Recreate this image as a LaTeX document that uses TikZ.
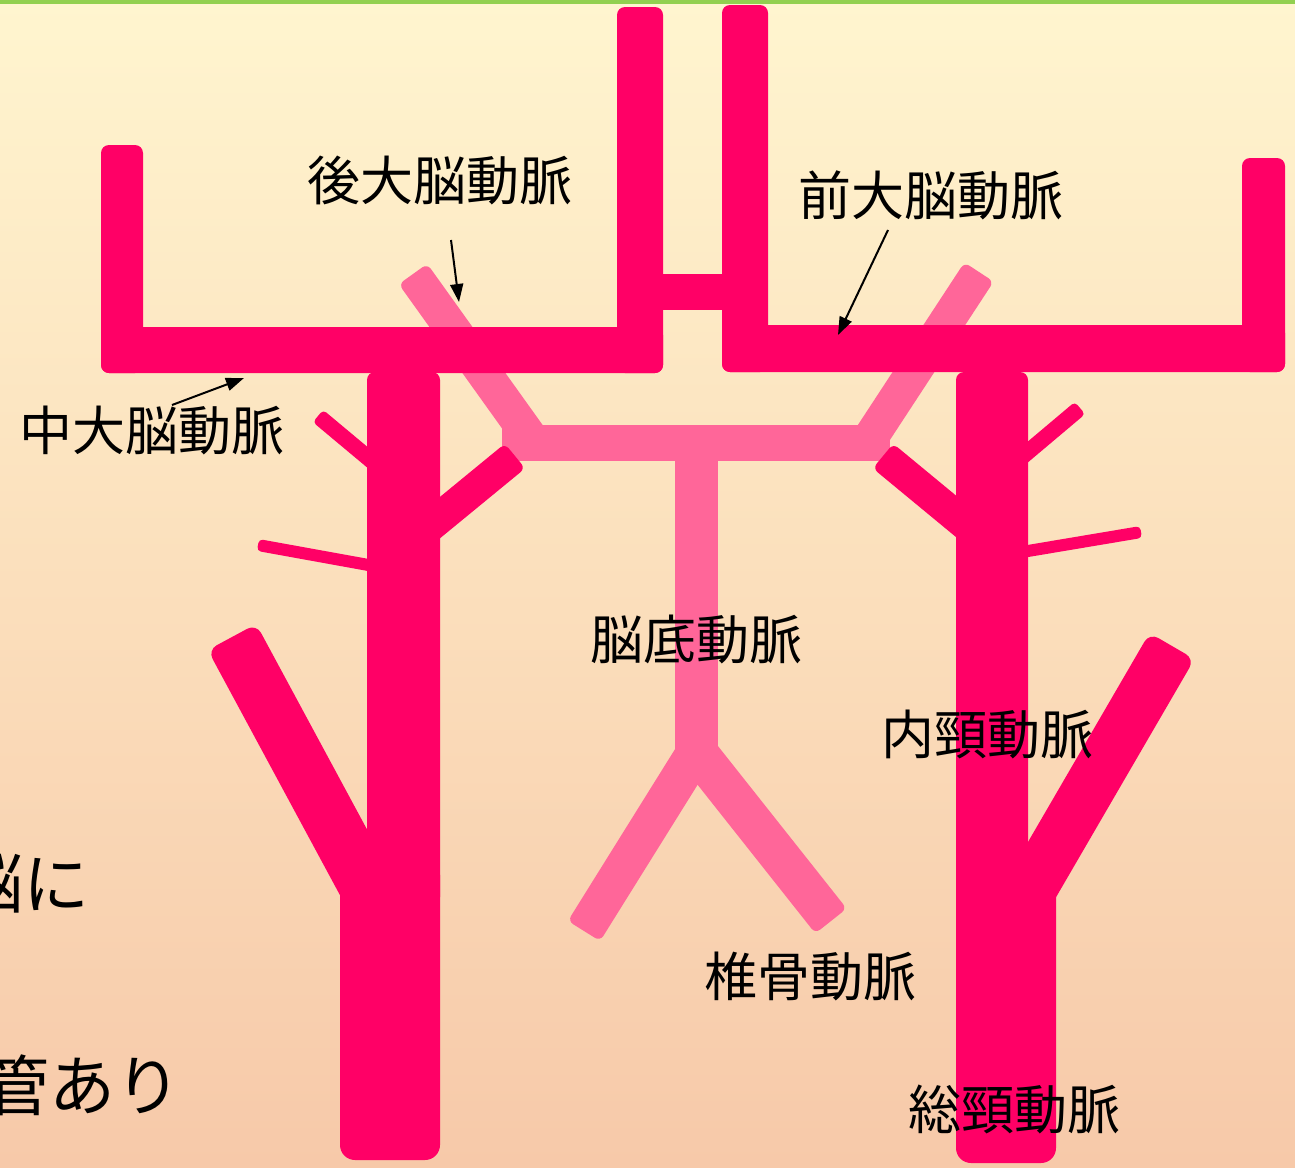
\documentclass[tikz,border=0pt]{standalone}
\usepackage{fontspec}
\newfontfamily\jp{Noto Sans CJK JP}
\usetikzlibrary{calc,arrows.meta}

\definecolor{artery}{HTML}{FF0066}
\definecolor{basilarpink}{HTML}{FF6699}
\definecolor{bgtop}{HTML}{FFF5CF}
\definecolor{bgmid}{HTML}{FCE5D5}
\definecolor{bgbot}{HTML}{F7C9A9}
\definecolor{topline}{HTML}{92D050}

% a straight vessel segment from #2 to #3 with half width #4
\newcommand\vessel[4][7pt]{%
  \fill[rounded corners=#1] ($(#2)!#4!90:(#3)$) -- ($(#3)!#4!-90:(#2)$)
    -- ($(#3)!#4!90:(#2)$) -- ($(#2)!#4!-90:(#3)$) -- cycle;}

\tikzset{
  label jp/.style={font=\jp\fontsize{53}{60}\selectfont, inner sep=0pt, text=black},
  side jp/.style={font=\jp\fontsize{66}{74}\selectfont, inner sep=0pt, text=black, anchor=east},
  pointer/.style={draw=black, line width=2pt, -{Triangle[length=18pt,width=13pt]}},
}

\begin{document}
\begin{tikzpicture}[x=1pt, y=-1pt]
\useasboundingbox (0,0) rectangle (1295,1167);
\clip (0,0) rectangle (1295,1167);

% background
\shade[top color=bgtop, middle color=bgmid, bottom color=bgbot] (0,0) rectangle (1295,1167);
\fill[topline] (0,0) rectangle (1295,3.5);

% vertebral - basilar - posterior cerebral system
\begin{scope}[fill=basilarpink]
  \fill (502,425) rectangle (890,461);
  \fill (675,440) rectangle (718,760);
  \vessel[6pt]{584,931}{700,745}{19pt}
  \vessel[6pt]{831,921}{694,748}{20pt}
  \vessel[6pt]{413,274}{534,443}{17.5pt}
  \vessel[6pt]{979,272}{867,443}{17.5pt}
\end{scope}

% carotid system and cerebral arteries
\begin{scope}[fill=artery]
  % left middle / anterior cerebral
  \fill[rounded corners=8pt] (101,145) rectangle (143,373);
  \fill[rounded corners=8pt] (101,327) rectangle (663,373);
  \fill[rounded corners=8pt] (617,7) rectangle (663,373);
  % right middle / anterior cerebral
  \fill[rounded corners=8pt] (722,5) rectangle (768,372);
  \fill[rounded corners=8pt] (722,325) rectangle (1285,372);
  \fill[rounded corners=8pt] (1242,158) rectangle (1285,372);
  % anterior communicating
  \fill (655,274) rectangle (730,310);

  % left internal / common / external carotid
  \fill[rounded corners=8pt] (367,372) rectangle (440,905);
  \fill[rounded corners=15pt] (340,860) rectangle (440,1160);
  \vessel[10pt]{232,637}{383,917}{27.5pt}
  % right internal / common / external carotid
  \fill[rounded corners=8pt] (956,372) rectangle (1028,905);
  \fill[rounded corners=15pt] (956,860) rectangle (1056,1163);
  \vessel[10pt]{1172,646}{1013.5,918.6}{26pt}

  % small branches, left
  \vessel[4pt]{318,416}{385,472}{8pt}
  \vessel[4pt]{258,545}{385,568}{6pt}
  \vessel[6pt]{515,456}{420,534}{16pt}
  % small branches, right
  \vessel[6pt]{883,456}{975,532}{16pt}
  \vessel[4pt]{1080,408}{1010,467}{8pt}
  \vessel[4pt]{1141,532}{1010,554}{6pt}
\end{scope}

% labels
\node[label jp] (pca) at (440,180) {後大脳動脈};
\node[label jp] (aca) at (930.5,195) {前大脳動脈};
\node[label jp] (mca) at (151.5,430) {中大脳動脈};
\node[label jp] (ba)  at (696.5,639) {脳底動脈};
\node[label jp] (ica) at (987,734) {内頸動脈};
\node[label jp] (va)  at (810,976) {椎骨動脈};
\node[label jp] (cca) at (1014.5,1109) {総頸動脈};

\node[side jp] (sideA) at (90,884) {脳に};
\node[side jp] (sideB) at (182,1085) {管あり};

% pointers
\coordinate (pcaFrom) at (451,240);
\coordinate (pcaTo)   at (459,302);
\coordinate (acaFrom) at (888,230);
\coordinate (acaTo)   at (838,335);
\coordinate (mcaFrom) at (172,405);
\coordinate (mcaTo)   at (244,378);
\draw[pointer] (pcaFrom) -- (pcaTo);
\draw[pointer] (acaFrom) -- (acaTo);
\draw[pointer] (mcaFrom) -- (mcaTo);
\end{tikzpicture}
\end{document}
